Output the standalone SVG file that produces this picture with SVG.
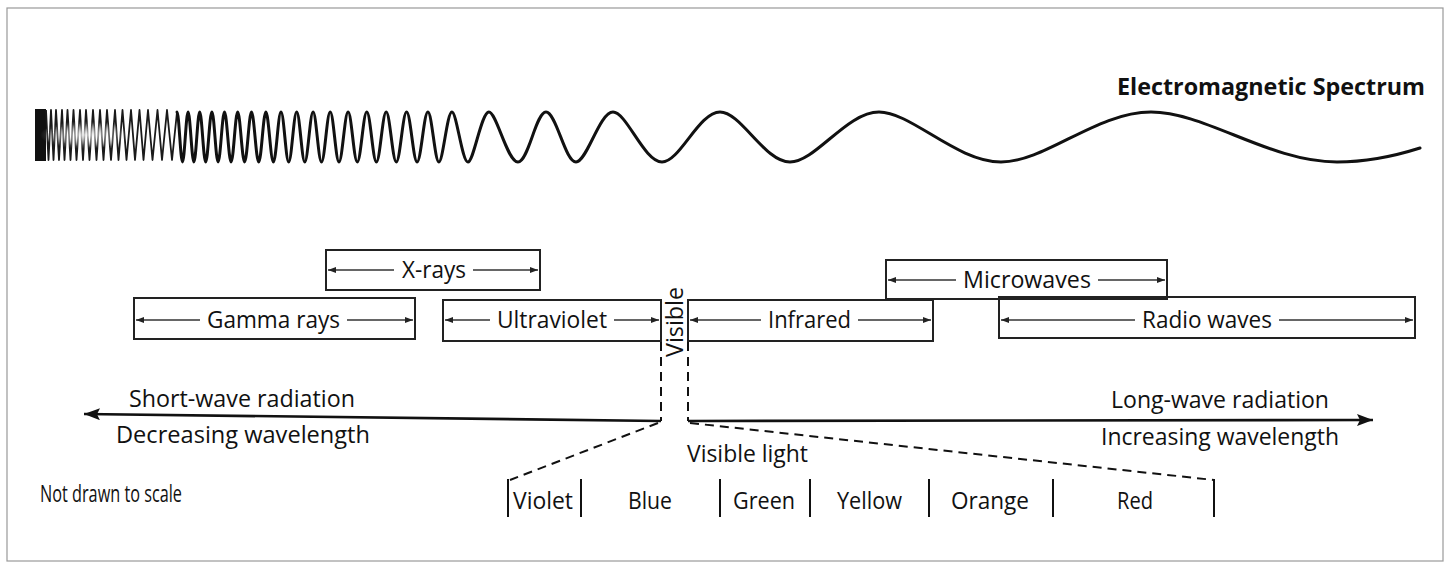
<svg xmlns="http://www.w3.org/2000/svg" width="1453" height="565" viewBox="0 0 1453 565">
<defs>
<style>
.t{font-family:"Open Sans","Liberation Sans",sans-serif;font-size:24px;fill:#111}
.box{fill:none;stroke:#222;stroke-width:2}
.arr{stroke:#333;stroke-width:1.4;fill:none;marker-end:url(#sm)}
.axis{stroke:#111;stroke-width:2.6;fill:none;marker-end:url(#big)}
.dash{stroke:#111;stroke-width:2;stroke-dasharray:9 6;fill:none}
.bar{stroke:#111;stroke-width:2}
</style>
<marker id="sm" markerWidth="8" markerHeight="6" refX="8" refY="3" orient="auto" markerUnits="userSpaceOnUse"><path d="M0,0 L8,3 L0,6 z" fill="#222"/></marker>
<marker id="big" markerWidth="16" markerHeight="12" refX="16" refY="6" orient="auto" markerUnits="userSpaceOnUse"><path d="M0,0 L16,6 L0,12 L3,6 z" fill="#111"/></marker>
<radialGradient id="haze" cx="0.5" cy="0.5" r="0.5"><stop offset="0" stop-color="#fff" stop-opacity="0.75"/><stop offset="1" stop-color="#fff" stop-opacity="0"/></radialGradient>
</defs>
<rect x="0" y="0" width="1453" height="565" fill="#fff"/>
<rect x="7" y="8" width="1436" height="553" fill="none" stroke="#999" stroke-width="1.2"/>

<g id="wave">
<rect x="35" y="109" width="11" height="52" fill="#111"/>
<polyline points="46,110 48.5,160 51,110 53.5,160 56,110 59,160 62,110 64.5,160 67.5,110 70.5,160 73.5,110 76.5,160 80,110 83,160 86,110 89.5,160 93,110 96.5,160 100,110 103.5,160 107,110 111,160 115,110 118.5,160 122.5,110 126.5,160 131,110 135,160 139.5,110 143.5,160 148,110 152.5,160 157.5,110 162,160 167,110 172,160 177,112" fill="none" stroke="#1a1a1a" stroke-width="1.8" stroke-linejoin="round"/>
<ellipse cx="85" cy="135" rx="45" ry="14" fill="url(#haze)"/>
<path d="M177 112 C179 112 180.5 162 182.5 162 S186.1 112 188.1 112 S191.8 162 193.9 162 S197.6 112 199.7 112 S203.5 162 205.7 162 S209.6 112 211.9 112 S215.8 162 218.1 162 S222.2 112 224.5 112 S228.7 162 231.1 162 S235.3 112 237.7 112 S242.1 162 244.6 162 S249.0 112 251.5 112 S256.1 162 258.7 162 S263.3 112 265.9 112 S270.7 162 273.4 162 S278.2 112 281.0 112 S285.9 162 288.7 162 S293.8 112 296.7 112 S301.9 162 304.8 162 S310.1 112 313.1 112 S318.4 162 321.5 162 S327.0 112 330.2 112 S335.8 162 339.0 162 S344.8 112 348.1 112 S353.9 162 357.3 162 S363.3 112 366.8 112 S372.9 162 376.4 162 S382.6 112 386.2 112 S392.6 162 396.3 162 S402.8 112 406.6 112 S413.3 162 417.1 162 S424.0 112 427.9 112 S434.9 162 438.9 162 S447.2 112 451.9 112 S462.1 162 467.9 162 S481.3 112 488.9 112 S507.3 162 517.9 162 S535.8 112 546 112 S565.1 162 576 162 S599.5 112 613 112 S644.2 162 662 162 S698.9 112 720 112 S764.5 162 790 162 S846.6 112 879 112 S956.6 162 1001 162 S1096.4 112 1151 112 S1269.3 162 1337 162 C1367 162 1398 155 1420 148" fill="none" stroke="#111" stroke-width="3" stroke-linecap="round"/>
</g>

<text id="title" class="t" x="1117" y="95" font-weight="bold" font-size="23" textLength="308" lengthAdjust="spacingAndGlyphs">Electromagnetic Spectrum</text>

<g id="xrays">
<rect class="box" x="326" y="250" width="214" height="40"/>
<line class="arr" x1="394" y1="270" x2="328" y2="270"/>
<line class="arr" x1="473" y1="270" x2="538" y2="270"/>
<text class="t" x="402" y="278" textLength="64" lengthAdjust="spacingAndGlyphs">X-rays</text>
</g>
<g id="gamma">
<rect class="box" x="134" y="298" width="281" height="41"/>
<line class="arr" x1="200" y1="320" x2="136" y2="320"/>
<line class="arr" x1="347" y1="320" x2="413" y2="320"/>
<text class="t" x="207" y="328" textLength="133" lengthAdjust="spacingAndGlyphs">Gamma rays</text>
</g>
<g id="ultraviolet">
<rect class="box" x="443" y="300" width="218" height="41"/>
<line class="arr" x1="490" y1="320" x2="445" y2="320"/>
<line class="arr" x1="614" y1="320" x2="659" y2="320"/>
<text class="t" x="497" y="328" textLength="110" lengthAdjust="spacingAndGlyphs">Ultraviolet</text>
</g>
<g id="visible">
<text class="t" transform="translate(683,322) rotate(-90)" x="0" y="0" text-anchor="middle" textLength="70" lengthAdjust="spacingAndGlyphs">Visible</text>
</g>
<g id="infrared">
<rect class="box" x="688" y="300" width="245" height="41"/>
<line class="arr" x1="761" y1="320" x2="690" y2="320"/>
<line class="arr" x1="858" y1="320" x2="931" y2="320"/>
<text class="t" x="768" y="328" textLength="83" lengthAdjust="spacingAndGlyphs">Infrared</text>
</g>
<g id="microwaves">
<rect class="box" x="886" y="260" width="281" height="39"/>
<line class="arr" x1="956" y1="280" x2="888" y2="280"/>
<line class="arr" x1="1098" y1="280" x2="1165" y2="280"/>
<text class="t" x="963" y="288" textLength="128" lengthAdjust="spacingAndGlyphs">Microwaves</text>
</g>
<g id="radio">
<rect class="box" x="999" y="297" width="416" height="41"/>
<line class="arr" x1="1135" y1="320" x2="1001" y2="320"/>
<line class="arr" x1="1279" y1="320" x2="1413" y2="320"/>
<text class="t" x="1142" y="328" textLength="130" lengthAdjust="spacingAndGlyphs">Radio waves</text>
</g>

<g id="connectors">
<line class="axis" x1="661" y1="421" x2="84" y2="414"/>
<line class="axis" x1="688" y1="421" x2="1373" y2="420"/>
<line class="dash" x1="661" y1="342" x2="661" y2="421"/>
<line class="dash" x1="688" y1="342" x2="688" y2="421"/>
<line class="dash" x1="658" y1="423" x2="510" y2="480"/>
<line class="dash" x1="690" y1="423" x2="1214" y2="480"/>
</g>

<g id="labels">
<text class="t" x="129" y="407" textLength="226" lengthAdjust="spacingAndGlyphs">Short-wave radiation</text>
<text class="t" x="116" y="443" textLength="254" lengthAdjust="spacingAndGlyphs">Decreasing wavelength</text>
<text class="t" x="1111" y="408" textLength="218" lengthAdjust="spacingAndGlyphs">Long-wave radiation</text>
<text class="t" x="1101" y="445" textLength="238" lengthAdjust="spacingAndGlyphs">Increasing wavelength</text>
<text class="t" x="687" y="462" textLength="121" lengthAdjust="spacingAndGlyphs">Visible light</text>
<text class="t" x="40" y="502" font-size="15" textLength="142" lengthAdjust="spacingAndGlyphs">Not drawn to scale</text>
</g>

<g id="visible-bands">
<line class="bar" x1="508" y1="479" x2="508" y2="517"/>
<line class="bar" x1="581" y1="479" x2="581" y2="517"/>
<line class="bar" x1="720" y1="479" x2="720" y2="517"/>
<line class="bar" x1="810" y1="479" x2="810" y2="517"/>
<line class="bar" x1="929" y1="479" x2="929" y2="517"/>
<line class="bar" x1="1053" y1="479" x2="1053" y2="517"/>
<line class="bar" x1="1214" y1="479" x2="1214" y2="517"/>
<text class="t" x="513" y="509" textLength="60" lengthAdjust="spacingAndGlyphs">Violet</text>
<text class="t" x="628" y="509" textLength="44" lengthAdjust="spacingAndGlyphs">Blue</text>
<text class="t" x="733" y="509" textLength="62" lengthAdjust="spacingAndGlyphs">Green</text>
<text class="t" x="837" y="509" textLength="65" lengthAdjust="spacingAndGlyphs">Yellow</text>
<text class="t" x="951" y="509" textLength="78" lengthAdjust="spacingAndGlyphs">Orange</text>
<text class="t" x="1117" y="509" textLength="36" lengthAdjust="spacingAndGlyphs">Red</text>
</g>
</svg>
